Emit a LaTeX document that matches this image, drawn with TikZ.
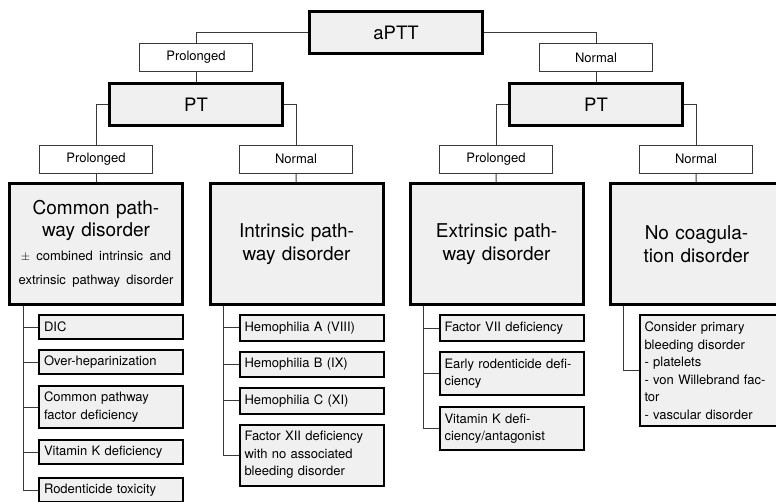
\documentclass[tikz,border=0pt]{standalone}
\usepackage{fontspec}
\setmainfont{TeX Gyre Heros}
\usepackage{xcolor}
\usepackage{tikz}
\usetikzlibrary{positioning}
\definecolor{boxgray}{HTML}{F0F0F0}
\definecolor{linkgray}{HTML}{3A3A3A}
\newcommand{\smalltext}{\fontsize{13}{24}\selectfont}
\tikzset{
  testbox/.style={rectangle, draw=black, line width=3pt, fill=boxgray,
                  minimum width=173pt, minimum height=42pt, inner sep=0pt,
                  font=\fontsize{18.5}{22}\selectfont},
  resultbox/.style={rectangle, draw=linkgray, line width=1pt, fill=white,
                  minimum width=113pt, minimum height=28pt, inner sep=0pt,
                  font=\fontsize{13}{16}\selectfont},
  dxbox/.style={rectangle, draw=black, line width=3pt, fill=boxgray,
                minimum width=173pt, minimum height=121pt, inner sep=0pt,
                text width=165pt, align=center, font=\fontsize{19}{22.5}\selectfont},
  causebox/.style={rectangle, draw=black, line width=2pt, fill=boxgray,
                   minimum height=24pt, inner xsep=5pt, inner ysep=2pt,
                   text width=134pt, align=left, font=\fontsize{13}{17.5}\selectfont},
  link/.style={draw=linkgray, line width=1pt}
}

\begin{document}
\begin{tikzpicture}[x=1pt, y=-1pt]
  \useasboundingbox (0,0) rectangle (776,501);
  \clip (0,0) rectangle (776,501);

  \node[testbox] (aptt) at (396,32.5) {aPTT};
  \node[resultbox] (prol) at (196,57.5) {Prolonged};
  \node[resultbox] (norm) at (596,57.5) {Normal};
  \node[testbox] (ptl) at (196,104.5) {PT};
  \node[testbox] (ptr) at (596,104.5) {PT};

  \node[resultbox] (ptlprol) at (96,159) {Prolonged};
  \node[resultbox] (ptlnorm) at (296,159) {Normal};
  \node[resultbox] (ptrprol) at (496,159) {Prolonged};
  \node[resultbox] (ptrnorm) at (696,159) {Normal};

  \node[dxbox] (common) at (96,244) {Common path-\\way disorder\par
    {\smalltext $\pm$ combined intrinsic and\\extrinsic pathway disorder\par}};
  \node[dxbox] (intrinsic) at (296.5,244) {Intrinsic path-\\way disorder};
  \node[dxbox] (extrinsic) at (496.5,244) {Extrinsic path-\\way disorder};
  \node[dxbox] (nocoag) at (696.5,244) {No coagula-\\tion disorder};

  \node[causebox, anchor=north east] (dic) at ([yshift=-8pt]common.south east) {DIC};
  \node[causebox, below=9pt of dic] (overhep) {Over-heparinization};
  \node[causebox, minimum height=42pt, below=10pt of overhep] (cpfactor) {Common pathway\\factor deficiency};
  \node[causebox, below=10pt of cpfactor] (vitk) {Vitamin K deficiency};
  \node[causebox, below=12pt of vitk] (rodent) {Rodenticide toxicity};

  \node[causebox, minimum height=25.5pt, anchor=north east] (hema) at ([yshift=-8pt]intrinsic.south east) {Hemophilia A (VIII)};
  \node[causebox, minimum height=25.5pt, below=9pt of hema] (hemb) {Hemophilia B (IX)};
  \node[causebox, minimum height=25.5pt, below=9pt of hemb] (hemc) {Hemophilia C (XI)};
  \node[causebox, minimum height=61pt, below=9pt of hemc] (fxii) {Factor XII deficiency\\with no associated\\bleeding disorder};

  \node[causebox, minimum height=26pt, anchor=north east] (fvii) at ([yshift=-8pt]extrinsic.south east) {Factor VII deficiency};
  \node[causebox, minimum height=43pt, below=9pt of fvii] (earlyrod) {Early rodenticide defi-\\ciency};
  \node[causebox, minimum height=43pt, below=10pt of earlyrod] (vitkant) {Vitamin K defi-\\ciency/antagonist};

  \node[causebox, minimum height=111pt, anchor=north east] (primary) at ([yshift=-8pt]nocoag.south east)
    {Consider primary\\bleeding disorder\\- platelets\\- von Willebrand fac-\\tor\\- vascular disorder};

  \draw[link] (aptt.west) -| (prol.north);
  \draw[link] (aptt.east) -| (norm.north);
  \draw[link] (prol) -- (ptl);
  \draw[link] (norm) -- (ptr);
  \draw[link] (ptl.west) -| (ptlprol.north);
  \draw[link] (ptl.east) -| (ptlnorm.north);
  \draw[link] (ptr.west) -| (ptrprol.north);
  \draw[link] (ptr.east) -| (ptrnorm.north);
  \draw[link] (ptlprol) -- (common);
  \draw[link] (ptlnorm) -- (intrinsic);
  \draw[link] (ptrprol) -- (extrinsic);
  \draw[link] (ptrnorm) -- (nocoag);

  \draw[link] ([xshift=15pt]common.south west) |- (dic.west);
  \draw[link] ([xshift=15pt]common.south west) |- (overhep.west);
  \draw[link] ([xshift=15pt]common.south west) |- (cpfactor.west);
  \draw[link] ([xshift=15pt]common.south west) |- (vitk.west);
  \draw[link] ([xshift=15pt]common.south west) |- (rodent.west);
  \draw[link] ([xshift=15pt]intrinsic.south west) |- (hema.west);
  \draw[link] ([xshift=15pt]intrinsic.south west) |- (hemb.west);
  \draw[link] ([xshift=15pt]intrinsic.south west) |- (hemc.west);
  \draw[link] ([xshift=15pt]intrinsic.south west) |- (fxii.west);
  \draw[link] ([xshift=15pt]extrinsic.south west) |- (fvii.west);
  \draw[link] ([xshift=15pt]extrinsic.south west) |- (earlyrod.west);
  \draw[link] ([xshift=15pt]extrinsic.south west) |- (vitkant.west);
  \draw[link] ([xshift=15pt]nocoag.south west) |- (primary.west);
\end{tikzpicture}
\end{document}
